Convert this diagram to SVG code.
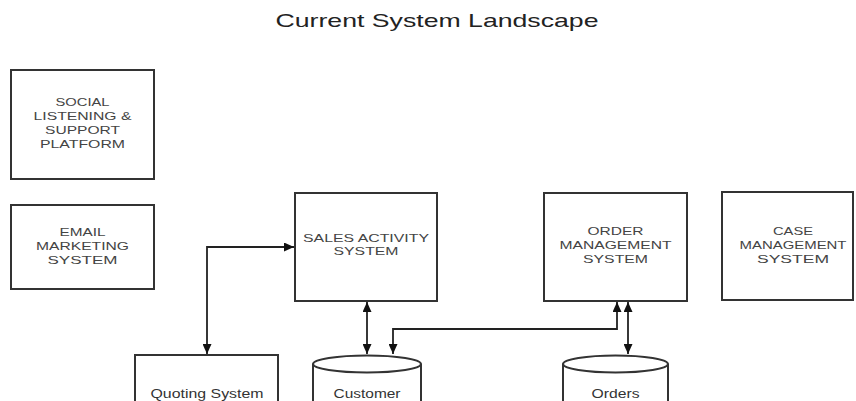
<svg xmlns="http://www.w3.org/2000/svg" width="856" height="401" viewBox="0 0 856 401">
<style>
.box{fill:#fff;stroke:#333;stroke-width:2}
.cyl{fill:#fff;stroke:#333;stroke-width:2}
.lbl{font-family:"Liberation Sans",Arial,sans-serif;font-size:11px;fill:#444;text-anchor:middle}
.lbl2{font-family:"Liberation Sans",Arial,sans-serif;font-size:12px;fill:#333;text-anchor:middle}
.title{font-family:"Liberation Sans",Arial,sans-serif;font-size:19px;fill:#222;text-anchor:middle}
.conn{fill:none;stroke:#222;stroke-width:1.8;marker-start:url(#ah);marker-end:url(#ah)}
</style>
<defs>
<marker id="ah" markerUnits="userSpaceOnUse" markerWidth="11" markerHeight="9" refX="10" refY="4.5" orient="auto-start-reverse" viewBox="0 0 11 9">
<path d="M0,0 L10,4.5 L0,9 z" fill="#111"/>
</marker>
</defs>
<rect width="856" height="401" fill="#fff"/>
<text class="title" x="437" y="27" textLength="323" lengthAdjust="spacingAndGlyphs">Current System Landscape</text>

<g id="social">
<rect class="box" x="11" y="70" width="143" height="109"/>
<text class="lbl" x="82.5" y="106" textLength="54" lengthAdjust="spacingAndGlyphs">SOCIAL</text>
<text class="lbl" x="82.5" y="120" textLength="98" lengthAdjust="spacingAndGlyphs">LISTENING &amp;</text>
<text class="lbl" x="82.5" y="134" textLength="75" lengthAdjust="spacingAndGlyphs">SUPPORT</text>
<text class="lbl" x="82.5" y="148" textLength="85" lengthAdjust="spacingAndGlyphs">PLATFORM</text>
</g>
<g id="email">
<rect class="box" x="11" y="205" width="143" height="84"/>
<text class="lbl" x="82.5" y="236" textLength="46" lengthAdjust="spacingAndGlyphs">EMAIL</text>
<text class="lbl" x="82.5" y="250" textLength="93" lengthAdjust="spacingAndGlyphs">MARKETING</text>
<text class="lbl" x="82.5" y="264" textLength="70" lengthAdjust="spacingAndGlyphs">SYSTEM</text>
</g>
<g id="sales">
<rect class="box" x="295" y="193" width="142" height="108"/>
<text class="lbl" x="366" y="242" textLength="126" lengthAdjust="spacingAndGlyphs">SALES ACTIVITY</text>
<text class="lbl" x="366" y="255" textLength="65" lengthAdjust="spacingAndGlyphs">SYSTEM</text>
</g>
<g id="order">
<rect class="box" x="544" y="193" width="143" height="108"/>
<text class="lbl" x="615.5" y="235" textLength="56" lengthAdjust="spacingAndGlyphs">ORDER</text>
<text class="lbl" x="615.5" y="249" textLength="112" lengthAdjust="spacingAndGlyphs">MANAGEMENT</text>
<text class="lbl" x="615.5" y="263" textLength="65" lengthAdjust="spacingAndGlyphs">SYSTEM</text>
</g>
<g id="case">
<rect class="box" x="722" y="192" width="131" height="108"/>
<text class="lbl" x="793" y="235" textLength="40" lengthAdjust="spacingAndGlyphs">CASE</text>
<text class="lbl" x="793" y="249" textLength="107" lengthAdjust="spacingAndGlyphs">MANAGEMENT</text>
<text class="lbl" x="793" y="263" textLength="72" lengthAdjust="spacingAndGlyphs">SYSTEM</text>
</g>
<g id="quoting">
<rect class="box" x="135" y="355" width="143" height="60"/>
<text class="lbl2" x="207" y="398" textLength="113" lengthAdjust="spacingAndGlyphs">Quoting System</text>
</g>
<g id="customer">
<path class="cyl" d="M313,364 L313,410 L421,410 L421,364"/>
<ellipse class="cyl" cx="367" cy="364" rx="54" ry="8.5"/>
<text class="lbl2" x="367" y="398" textLength="67" lengthAdjust="spacingAndGlyphs">Customer</text>
</g>
<g id="orders">
<path class="cyl" d="M563,364 L563,410 L668,410 L668,364"/>
<ellipse class="cyl" cx="615.5" cy="364" rx="52.5" ry="8.5"/>
<text class="lbl2" x="615.5" y="398" textLength="48" lengthAdjust="spacingAndGlyphs">Orders</text>
</g>

<g id="connectors">
<path class="conn" d="M207,354 L207,247 L294,247"/>
<path class="conn" d="M367,302 L367,354"/>
<path class="conn" d="M393,354 L393,329 L617,329 L617,302"/>
<path class="conn" d="M628,302 L628,354"/>
</g>
</svg>
